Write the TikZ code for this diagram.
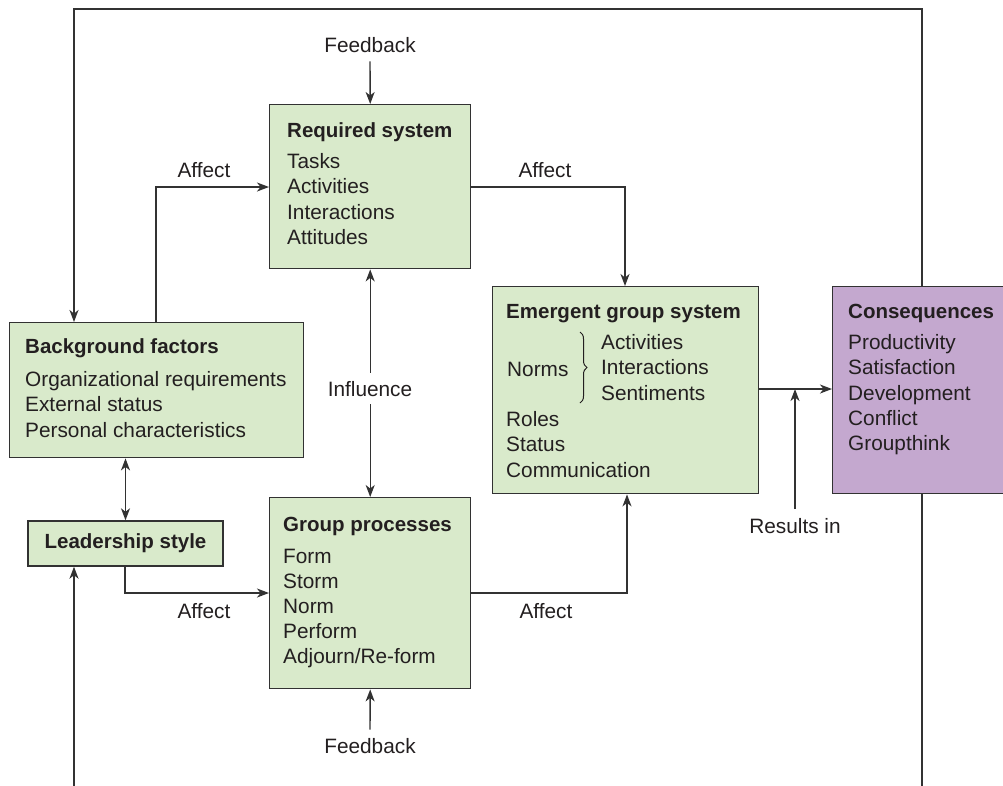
\documentclass[tikz,border=0pt]{standalone}
\usepackage{fontspec}
\setmainfont{Liberation Sans}
\usetikzlibrary{arrows.meta,decorations.pathreplacing}
\definecolor{boxgreen}{RGB}{217,234,203}
\definecolor{boxpurple}{RGB}{196,168,207}
\definecolor{linegray}{RGB}{50,50,50}
\definecolor{inkc}{RGB}{35,31,32}
\begin{document}
\begin{tikzpicture}[x=1pt,y=-1pt,
  gbox/.style={draw=linegray, line width=1.4pt, fill=boxgreen, anchor=north west, inner sep=0pt},
  pbox/.style={draw=linegray, line width=1.4pt, fill=boxpurple, anchor=north west, inner sep=0pt},
  txt/.style={inner sep=0pt, anchor=base west, text=inkc, font=\fontsize{20.8}{25}\selectfont},
  ttl/.style={txt, font=\fontsize{20.5}{25}\selectfont\bfseries},
  lbl/.style={inner sep=0pt, anchor=base, text=inkc, font=\fontsize{20.8}{25}\selectfont},
  conn/.style={draw=linegray, line width=1.4pt},
  arr/.style={conn, -{Stealth[length=12pt,width=9pt,inset=3.5pt]}},
  darr/.style={conn, {Stealth[length=12pt,width=9pt,inset=3.5pt]}-{Stealth[length=12pt,width=9pt,inset=3.5pt]}}
]
\useasboundingbox (0,0) rectangle (1003,785);

% boxes
\node[gbox, minimum width=201pt, minimum height=164pt] (req) at (269,104) {};
\node[gbox, minimum width=294pt, minimum height=135pt] (bg) at (9,322) {};
\node[gbox, minimum width=195pt, minimum height=45pt, anchor=center, text=inkc,
      font=\fontsize{20.5}{25}\selectfont\bfseries] (lead) at (125.5,543.5) {Leadership style};
\node[gbox, minimum width=201pt, minimum height=191pt] (grp) at (269,497) {};
\node[gbox, minimum width=266pt, minimum height=207pt] (emg) at (492,286) {};
\node[pbox, minimum width=180pt, minimum height=207pt] (cons) at (832,286) {};

% texts
\node[ttl] (reqT) at (287,137) {Required system};
\foreach \t [count=\i] in {Tasks,Activities,Interactions,Attitudes}
  \node[txt] (req\i) at (287,142.5+25.5*\i) {\t};

\node[ttl] (bgT) at (25,353) {Background factors};
\foreach \t [count=\i] in {Organizational requirements,External status,Personal characteristics}
  \node[txt] (bg\i) at (25,360.5+25.5*\i) {\t};

\node[ttl] (grpT) at (283,531) {Group processes};
\foreach \t [count=\i] in {Form,Storm,Norm,Perform,Adjourn/Re-form}
  \node[txt] (grp\i) at (283,537.8+25.2*\i) {\t};

\node[ttl] (emgT) at (506,318) {Emergent group system};
\foreach \t [count=\i] in {Activities,Interactions,Sentiments}
  \node[txt] (emgA\i) at (601,323.5+25.5*\i) {\t};
\node[txt] (norms) at (507,376) {Norms};
\foreach \t [count=\i] in {Roles,Status,Communication}
  \node[txt] (emgB\i) at (506,401.5+25.2*\i) {\t};
\coordinate (brT) at (580,332);
\coordinate (brB) at (580,403);
\draw[draw=inkc, line width=1pt, decorate, decoration={brace, amplitude=7pt, aspect=0.5}] (brT) -- (brB);

\node[ttl] (consT) at (848,318) {Consequences};
\foreach \t [count=\i] in {Productivity,Satisfaction,Development,Conflict,Groupthink}
  \node[txt] (cons\i) at (848,324.5+25.2*\i) {\t};

% labels
\node[lbl] (fbt) at (370,52) {Feedback};
\node[lbl] (fbb) at (370,753) {Feedback};
\node[lbl] (aff1) at (204,177) {Affect};
\node[lbl] (aff2) at (545,177) {Affect};
\node[lbl] (aff3) at (204,618) {Affect};
\node[lbl] (aff4) at (546,618) {Affect};
\node[lbl] (resin) at (795,533) {Results in};

% feedback arrows
\draw[arr] ([yshift=-9pt]fbt.south) -- (req.north);
\draw[arr] ([yshift=8pt]fbb.north) -- (grp.south);

% influence
\draw[darr] (req.south) -- (grp.north);
\node[lbl, fill=white, inner xsep=2pt, inner ysep=8pt] (infl) at (370,396) {Influence};

% background <-> leadership
\draw[darr] (lead.north |- bg.south) -- (lead.north);

% affect arrows
\coordinate (a1) at (156,187);
\draw[arr] (a1 |- bg.north) -- (a1) -- (a1 -| req.west);
\coordinate (a2) at (625,187);
\draw[arr] (a2 -| req.east) -- (a2) -- (a2 |- emg.north);
\coordinate (a3) at (125,593);
\draw[arr] (a3 |- lead.south) -- (a3) -- (a3 -| grp.west);
\coordinate (a4) at (627,593);
\draw[arr] (a4 -| grp.east) -- (a4) -- (a4 |- emg.south);

% emergent -> consequences, results in
\coordinate (a5) at (795,389);
\draw[arr] (a5 -| emg.east) -- (a5 -| cons.west);
\coordinate (a6) at (795,509);
\draw[arr] (a6) -- (a5);

% outer frame
\coordinate (frR) at (922,9);
\coordinate (frL) at (74,9);
\draw[arr] (frR |- cons.north) -- (frR) -- (frL) -- (frL |- bg.north);
\coordinate (botL) at (74,786);
\draw[arr] (botL) -- (botL |- lead.south);
\coordinate (botR) at (922,786);
\draw[conn] (botR |- cons.south) -- (botR);
\end{tikzpicture}
\end{document}
